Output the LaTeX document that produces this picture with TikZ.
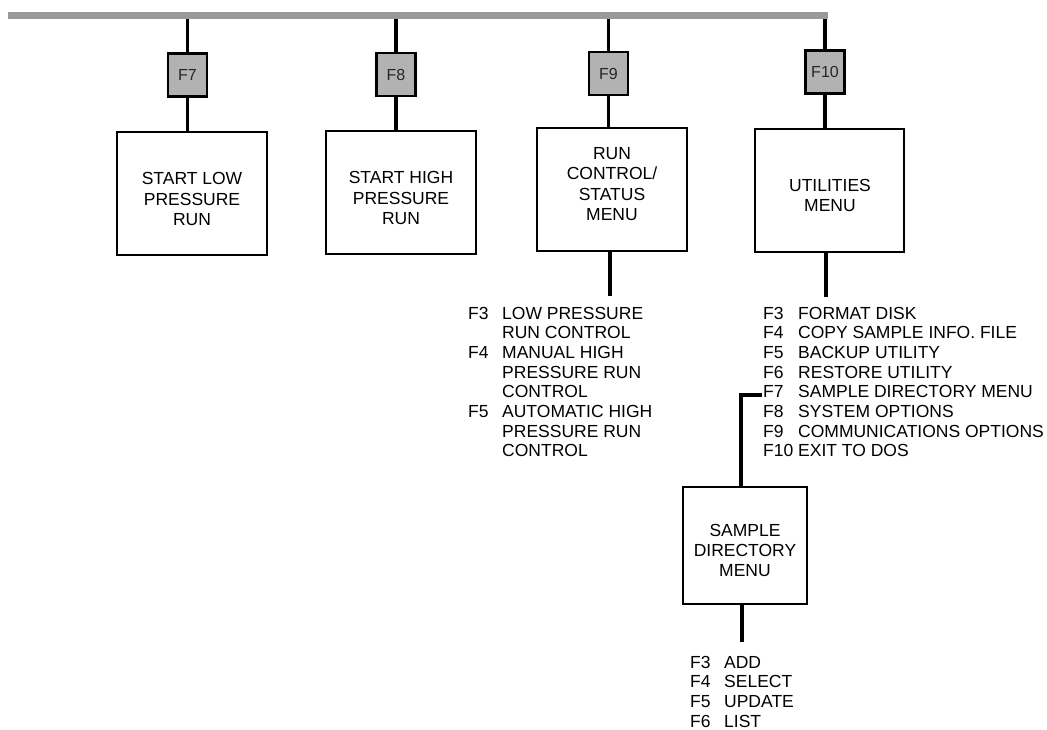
\documentclass[tikz,border=0pt]{standalone}
\usepackage{fontspec}
\setmainfont{Liberation Sans}
\tikzset{
  mainbox/.style={draw, line width=1.9pt, minimum width=150pt, minimum height=123pt, inner sep=0pt},
  boxtext/.style={align=center, inner sep=0pt, font=\fontsize{17.5}{20.5}\selectfont},
  fkey/.style={draw, line width=2.8pt, fill=black!30, minimum width=39pt, minimum height=43pt,
    inner sep=0pt, text=black!85, font=\fontsize{16}{18}\selectfont},
  conn/.style={line width=3.4pt},
  menulist/.style={anchor=base west, inner sep=0pt, font=\fontsize{17.5}{19.7}\selectfont}
}
\begin{document}
\begin{tikzpicture}[x=1pt,y=-1pt]
\useasboundingbox (0,0) rectangle (1047,730);
% top bar
\node[fill=black!40, minimum width=820pt, minimum height=7pt, inner sep=0pt, anchor=north west] (bar) at (8,12) {};
% function keys
\node[fkey] (k7) at (187.5,75) {F7};
\node[fkey] (k8) at (396,74.5) {F8};
\node[fkey] (k9) at (608.5,73.5) {F9};
\node[fkey] (k10) at (825,72) {F10};
% main boxes
\node[mainbox] (b1) at (192,193.5) {};
\node[mainbox] (b2) at (401,192.5) {};
\node[mainbox] (b3) at (612,189.5) {};
\node[mainbox, minimum width=149pt] (b4) at (829.5,190.5) {};
\node[mainbox, minimum width=124pt, minimum height=117pt] (sd) at (745,545.5) {};
\node[boxtext] (b1t) at (192,199) {START LOW\\PRESSURE\\RUN};
\node[boxtext] (b2t) at (401,198) {START HIGH\\PRESSURE\\RUN};
\node[boxtext] (b3t) at (612,184) {RUN\\CONTROL/\\STATUS\\MENU};
\node[boxtext] (b4t) at (830,195.5) {UTILITIES\\MENU};
\node[boxtext, font=\fontsize{17.5}{20}\selectfont] (sdt) at (745,550.5) {SAMPLE\\DIRECTORY\\MENU};
% connectors from bar through keys to boxes
\foreach \k/\b in {k7/b1,k8/b2,k9/b3,k10/b4}{
  \draw[conn] (\k.north) -- (\k.north |- bar.south);
  \draw[conn] (\k.south) -- (\k.south |- \b.north);
}
% lists
\node[menulist] (l9) at (468,319) {\begin{tabular}[t]{@{}p{34pt}@{}l@{}}
F3 & LOW PRESSURE\\
   & RUN CONTROL\\
F4 & MANUAL HIGH\\
   & PRESSURE RUN\\
   & CONTROL\\
F5 & AUTOMATIC HIGH\\
   & PRESSURE RUN\\
   & CONTROL
\end{tabular}};
\node[menulist] (l10) at (763,319) {\begin{tabular}[t]{@{}p{35pt}@{}l@{}}
F3 & FORMAT DISK\\
F4 & COPY SAMPLE INFO. FILE\\
F5 & BACKUP UTILITY\\
F6 & RESTORE UTILITY\\
F7 & SAMPLE DIRECTORY MENU\\
F8 & SYSTEM OPTIONS\\
F9 & COMMUNICATIONS OPTIONS\\
F10 & EXIT TO DOS
\end{tabular}};
\node[menulist] (lsd) at (690,668) {\begin{tabular}[t]{@{}p{34pt}@{}l@{}}
F3 & ADD\\
F4 & SELECT\\
F5 & UPDATE\\
F6 & LIST
\end{tabular}};
% connectors below boxes
\coordinate (e9) at (610,296);
\coordinate (e10) at (826,297);
\coordinate (esd) at (742,642);
\draw[conn] (e9 |- b3.south) -- (e9);
\draw[conn] (e10 |- b4.south) -- (e10);
\draw[conn] (esd |- sd.south) -- (esd);
% F7 branch to sample directory menu
\coordinate (f7) at (762,395);
\coordinate (c7) at (741,395);
\draw[conn] (f7) -- (c7) -- (c7 |- sd.north);
\end{tikzpicture}
\end{document}
